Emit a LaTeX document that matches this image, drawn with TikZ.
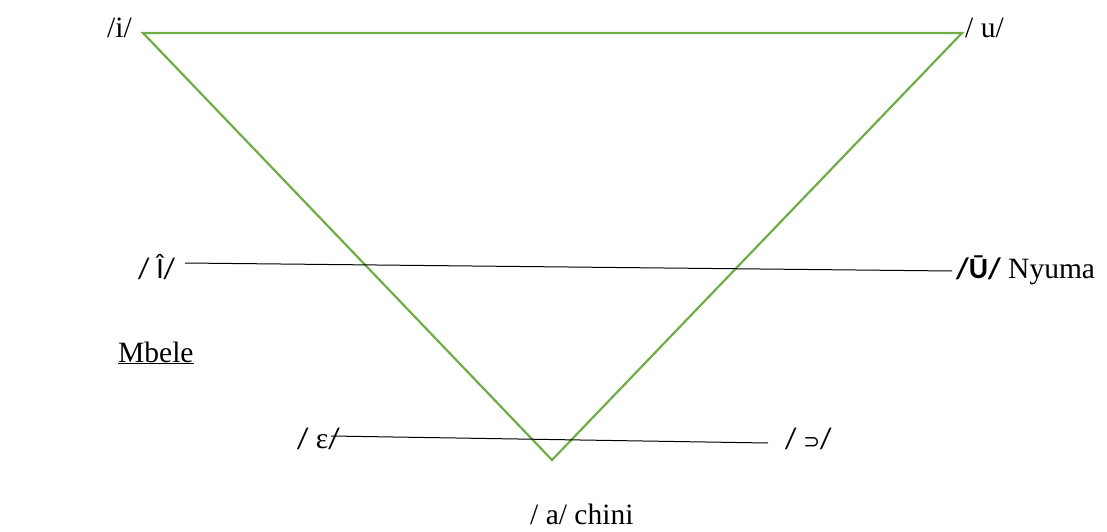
\documentclass[tikz,border=0pt]{standalone}
\usepackage{fontspec}
\setmainfont{Liberation Serif}
\newfontfamily\calfont{Carlito}
\newfontfamily\djfont{DejaVu Sans}
\definecolor{vgreen}{HTML}{70AD47}
\begin{document}
\begin{tikzpicture}[x=1pt,y=-1pt,
  lbl/.style={anchor=base west,inner sep=0pt,font=\fontsize{29.5}{34}\selectfont},
  tri/.style={draw=vgreen,line width=2.2pt,line join=miter},
  bar/.style={draw=black,line width=1pt}]
\useasboundingbox (0,0) rectangle (1107,532);
% vertices
\coordinate (vi) at (143,33);
\coordinate (vu) at (962,33);
\coordinate (va) at (552,460);
\draw[tri] (vi) -- (vu) -- (va) -- cycle;
% labels
\node[lbl] (li) at (107,38) {/i/};
\node[lbl] (lu) at (965,38) {/ u/};
\node[lbl,font=\calfont\fontsize{29.5}{34}\selectfont] (lI) at (138,278) {/ Î/};
\node[lbl] (lU) at (956,278) {{\calfont\bfseries /Ū/} Nyuma};
\node[lbl] (mb) at (118,362) {\underline{Mbele}};
\node[lbl] (le) at (297,448) {{\calfont /} ε{\calfont /}};
\node[lbl] (lo) at (785,448) {{\calfont / }{\djfont\fontsize{20}{24}\selectfont ⊃}{\calfont /}};
\node[lbl] (la) at (530,524) {/ a/ chini};
% horizontal bars
\coordinate (b1s) at (185,263);
\coordinate (b1e) at (952,271);
\coordinate (b2s) at (331,436);
\coordinate (b2e) at (768,443);
\draw[bar] (b1s) -- (b1e);
\draw[bar] (b2s) -- (b2e);
\end{tikzpicture}
\end{document}
